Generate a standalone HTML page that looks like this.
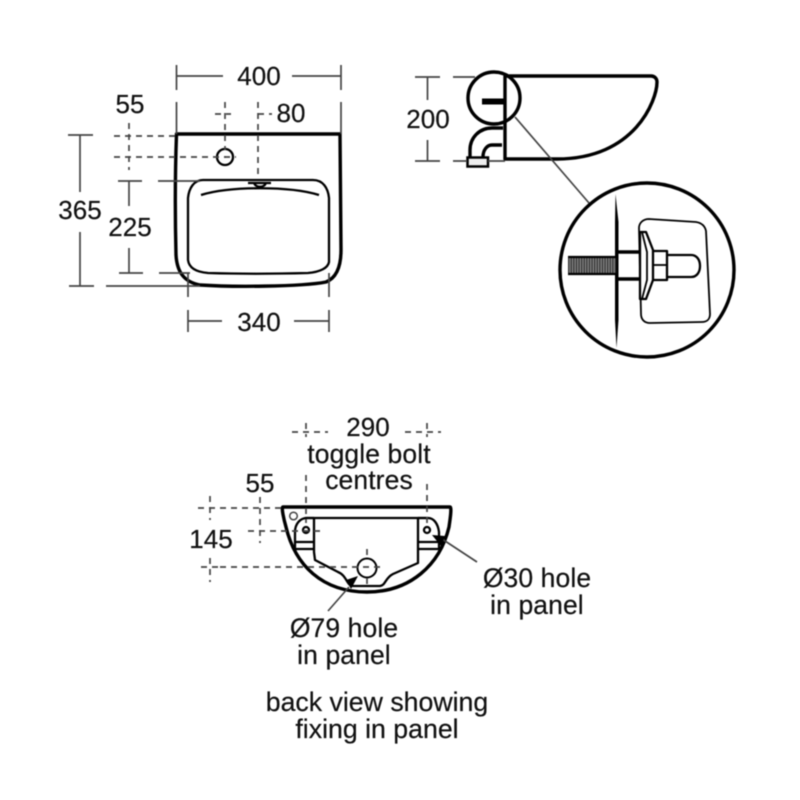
<!DOCTYPE html>
<html>
<head>
<meta charset="utf-8">
<style>
html,body{margin:0;padding:0;background:#fff;width:800px;height:800px;overflow:hidden}
svg{display:block;filter:blur(0.4px)}
text{font-family:"Liberation Sans",sans-serif;font-size:26px;fill:#111;stroke:#111;stroke-width:.2px;text-anchor:middle}
text.w{font-size:26.500px;letter-spacing:.1px}
.d{stroke:#444;stroke-width:1.700;fill:none}
.k{stroke:#444;stroke-width:1.700;fill:none;stroke-dasharray:6 5}
.o{stroke:#000;stroke-width:3.400;fill:none;stroke-linejoin:round}
.m{stroke:#000;stroke-width:2.300;fill:none;stroke-linejoin:round}
.t{stroke:#000;stroke-width:1.800;fill:none;stroke-linejoin:round}
</style>
</head>
<body>
<svg width="800" height="800" viewBox="0 0 800 800" xmlns="http://www.w3.org/2000/svg">
<rect width="800" height="800" fill="#fff"/>

<!-- FRONT VIEW -->
<path class="o" d="M176.500 134H340L341 250C341 268 336 278 326 282C300 287 230 287 200 285C184 282 177 272 176 255C175 215 175 175 176.500 134Z"/>
<path class="m" d="M203 180H313C323 180 328 188 329 198L329 262C328 268 320 272 308 273C270 274 240 274 208 273C196 272 189 268 188 260L188 198C189 188 194 180 203 180Z"/>
<path class="m" d="M201 195C230 186 290 186 319 195"/>
<path class="m" d="M248 183H271M254 183C256 188 264 188 266 183"/>
<circle class="m" cx="225" cy="157" r="8"/>
<circle cx="225" cy="157" r="1" fill="#333"/>

<!-- 400 -->
<path class="d" d="M176.500 65V90M341 65V90M177 76H223M292 76H341"/>
<text x="259" y="85">400</text>
<!-- extension lines top -->
<path class="d" d="M176.500 102V134M341 102V134"/>
<!-- 55 -->
<text x="130" y="113">55</text>
<path class="k" d="M129 123V170M114 136H176M114 157H236"/>
<!-- centre/80 -->
<path class="k" d="M225 102V150M215 114H231M258 102V178M258 114H272"/>
<text x="291" y="122">80</text>
<!-- 365 -->
<path class="d" d="M68 135H93M80 135V192M80 232V286M69 286H94M106 286H200"/>
<text x="80" y="219">365</text>
<!-- 225 -->
<path class="d" d="M118 181H142M129 181V206M129 248V273M119 273H143M158 181H200M159 273H190"/>
<text x="130" y="236">225</text>
<!-- 340 -->
<path class="d" d="M188 273V297M329 273V297M188 310V332M329 310V332M188 321H222M294 321H329"/>
<text x="259" y="331">340</text>

<!-- SIDE VIEW -->
<path class="o" d="M505 76H651C655 76 657 79 657 82C657 100 635 159 557 159H505Z"/>
<circle class="o" cx="494" cy="98" r="26"/>
<rect x="482" y="98.500" width="23" height="6" fill="#000"/>
<path class="o" d="M503 128H492C479 128 470 138 470 150V157"/>
<path class="o" d="M502 145H492C487 145 483 150 483 157"/>
<rect x="467.500" y="157.500" width="20.500" height="9" fill="#eee" stroke="#000" stroke-width="2.500"/>
<path class="d" d="M415 77H440M427.500 77V100M427.500 140V161M415 161H440M453 77H475M453 161H467M488 161H505"/>
<text x="428" y="128">200</text>
<path class="d" d="M515 117L589 203"/>

<!-- DETAIL CIRCLE -->
<circle cx="647" cy="270" r="87" fill="#fff" stroke="#000" stroke-width="3.400"/>
<path d="M615.500 194L618.500 222V320L616.500 348L615 320V222Z" fill="#000"/>
<rect x="568" y="257" width="48" height="17" fill="#888"/>
<path d="M568 265.500H616" fill="none" stroke="#333" stroke-width="16" stroke-dasharray="1.300 1.300"/>
<path class="m" d="M568 257H616M568 274H616"/>
<path class="o" d="M618 252H640M618 279H640"/>
<path class="t" d="M649 219L696 222C702 223 705 226 706 231L710 314C710 319 707 322 702 322L650 323C644 323 641 319 641 314L639 228C639 223 643 219 649 219Z"/>
<path d="M640 232H646L653 250V280L646 299H640Z" fill="#fff" stroke="#000" stroke-width="2.300" stroke-linejoin="round"/>
<path class="t" d="M642 232L647 252V280L642 299"/>
<path class="m" d="M653 251H667V280H653"/>
<path class="t" d="M653 265H667"/>
<path class="m" d="M667 255H691C697 255 700 260 700 266C700 272 697 277 691 277H667"/>

<!-- BACK VIEW -->
<path class="o" d="M283 507H450C452 507 450 520 449 527C440 565 410 592 367 592C322 592 295 565 286 527C284 520 281 507 283 507Z"/>
<path class="m" d="M305 518H428"/>
<path class="m" d="M314 518V552L315 560L338 572C346 575 347 585 352 586H380C386 585 385 578 393 574L418 563V518"/>
<path class="m" d="M314 518H307C300 518 295 524 295 532V549H314M295 542H314"/>
<path class="m" d="M418 518H428C434 518 438 524 439 532L439 549H418M418 542H438"/>
<circle cx="293.500" cy="516" r="3.800" fill="#fff" stroke="#444" stroke-width="1.500"/>
<circle cx="306" cy="530" r="3" fill="#fff" stroke="#000" stroke-width="2.300"/>
<circle cx="427" cy="530" r="3" fill="#fff" stroke="#000" stroke-width="2.300"/>
<circle cx="367" cy="568" r="9.500" fill="#fff" stroke="#000" stroke-width="2"/>
<path class="k" d="M306 423V437M306 475V523M427 423V437M427 484V523"/>
<path class="k" d="M292 432H328M405 432H441"/>
<text x="368" y="436">290</text>
<text class="w" x="369" y="463">toggle bolt</text>
<text class="w" x="369" y="489">centres</text>
<text x="260" y="492">55</text>
<text x="211" y="548">145</text>
<path class="k" d="M198 508H284M260 497V543M210 496V520M248 531H320M201 567H220M220 567H380M210 558V582M367 549V556M367 578V586"/>
<path class="d" d="M477 562L442 539"/>
<path d="M432 535L445 536L441 546Z" fill="#000"/>
<path class="d" d="M328 611L349 587"/>
<path d="M358 576L351 589L346 580Z" fill="#000"/>
<text class="w" x="537" y="587">Ø30 hole</text>
<text class="w" x="537" y="614">in panel</text>
<text class="w" x="344" y="637">Ø79 hole</text>
<text class="w" x="344" y="664">in panel</text>
<text x="377" y="711" style="font-size:26.700px">back view showing</text>
<text x="377" y="738" style="font-size:26.700px">fixing in panel</text>
</svg>
</body>
</html>
